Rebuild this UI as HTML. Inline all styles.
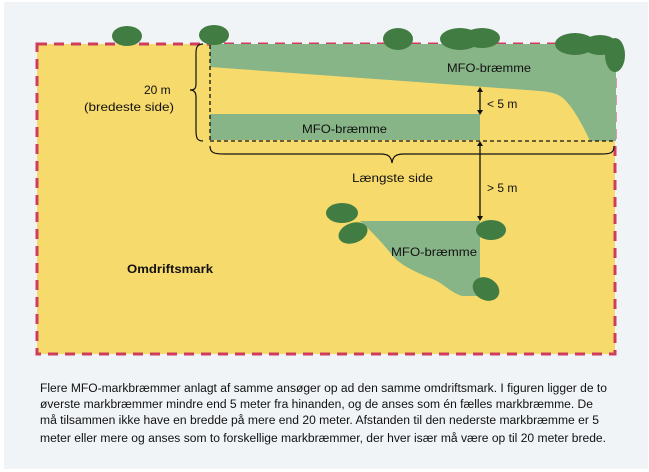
<!DOCTYPE html>
<html><head><meta charset="utf-8"><style>
html,body{margin:0;padding:0;background:#fff;}
svg{display:block;}
text{font-family:"Liberation Sans",sans-serif;}
</style></head><body>
<svg width="649" height="472" viewBox="0 0 649 472" xmlns="http://www.w3.org/2000/svg">
<rect x="4" y="2" width="644" height="467" fill="#f0f4f7"/>
<rect x="37" y="44" width="578" height="310" fill="#f7da6c"/>
<rect x="37" y="44" width="578" height="310" fill="none" stroke="#cf3d5c" stroke-width="3" stroke-dasharray="10,7"/>
<!-- top green -->
<path d="M210,44 L616,44 L616,141 L590,141 C585,130 575,110 565,100 C558,93 550,92 540,91 L210,67 Z" fill="#88b587"/>
<rect x="210" y="114" width="270" height="26" fill="#88b587"/>
<!-- bottom green -->
<path d="M360,221 L480,221 L480,296 L462,296 C450,292 445,285 435,280 C415,272 400,265 392,255 C380,240 370,230 360,221 Z" fill="#88b587"/>
<!-- dashed black -->
<line x1="210" y1="45" x2="210" y2="141" stroke="#111" stroke-width="1.3" stroke-dasharray="4,3"/>
<line x1="210" y1="141" x2="616" y2="141" stroke="#111" stroke-width="1.3" stroke-dasharray="4,3"/>
<!-- braces -->
<path d="M203,44 C195,44 196,50 196,60 L196,84 C196,89 194,90 190,90 C194,90 196,92 196,97 L196,130 C196,138 197,141 203,141" fill="none" stroke="#111" stroke-width="1.2"/>
<path d="M210,146 C210,153 214,154 225,154 L380,154 C388,154 391,156 392,163 C393,156 396,154 404,154 L600,154 C611,154 614,153 614,146" fill="none" stroke="#111" stroke-width="1.2"/>
<!-- arrows -->
<g stroke="#111" stroke-width="1.3" fill="#111">
<line x1="480" y1="90" x2="480" y2="112"/>
<path d="M477,92 L480,87 L483,92 Z" stroke="none"/>
<path d="M477,110 L480,115 L483,110 Z" stroke="none"/>
<line x1="480" y1="144" x2="480" y2="218"/>
<path d="M477,146 L480,141 L483,146 Z" stroke="none"/>
<path d="M477,216 L480,221 L483,216 Z" stroke="none"/>
</g>
<!-- trees -->
<g fill="#417c42">
<ellipse cx="127" cy="36" rx="15" ry="10"/>
<ellipse cx="214" cy="35" rx="15" ry="10"/>
<ellipse cx="398" cy="39" rx="15" ry="11"/>
<ellipse cx="460" cy="39" rx="20" ry="11"/>
<ellipse cx="482" cy="38" rx="18" ry="10"/>
<ellipse cx="575" cy="44" rx="20" ry="11"/>
<ellipse cx="600" cy="45" rx="17" ry="10"/>
<ellipse cx="615" cy="55" rx="10" ry="17"/>
<ellipse cx="342" cy="213" rx="16" ry="10"/>
<ellipse cx="353" cy="233" rx="15" ry="10" transform="rotate(-20 353 233)"/>
<ellipse cx="491" cy="230" rx="15" ry="10"/>
<ellipse cx="486" cy="289" rx="14" ry="11" transform="rotate(30 486 289)"/>
</g>
<!-- labels -->
<g font-size="12" fill="#111">
<text x="447" y="72" textLength="84" lengthAdjust="spacingAndGlyphs">MFO-bræmme</text>
<text x="302" y="133" textLength="85" lengthAdjust="spacingAndGlyphs">MFO-bræmme</text>
<text x="391" y="256" textLength="86" lengthAdjust="spacingAndGlyphs">MFO-bræmme</text>
<text x="487" y="108">&lt; 5 m</text>
<text x="487" y="192">&gt; 5 m</text>
<text x="144" y="94">20 m</text>
<text x="84" y="111" textLength="90" lengthAdjust="spacingAndGlyphs">(bredeste side)</text>
<text x="352" y="182" textLength="81" lengthAdjust="spacingAndGlyphs">Længste side</text>
<text x="127" y="273" font-weight="bold" textLength="86" lengthAdjust="spacingAndGlyphs">Omdriftsmark</text>
</g>
<g font-size="11.5" fill="#111">
<text x="40" y="392" textLength="567" lengthAdjust="spacingAndGlyphs">Flere MFO-markbræmmer anlagt af samme ansøger op ad den samme omdriftsmark. I figuren ligger de to</text>
<text x="40" y="408" textLength="553" lengthAdjust="spacingAndGlyphs">øverste markbræmmer mindre end 5 meter fra hinanden, og de anses som én fælles markbræmme. De</text>
<text x="40" y="424" textLength="559" lengthAdjust="spacingAndGlyphs">må tilsammen ikke have en bredde på mere end 20 meter. Afstanden til den nederste markbræmme er 5</text>
<text x="40" y="442" textLength="566" lengthAdjust="spacingAndGlyphs">meter eller mere og anses som to forskellige markbræmmer, der hver især må være op til 20 meter brede.</text>
</g>
</svg>
</body></html>
